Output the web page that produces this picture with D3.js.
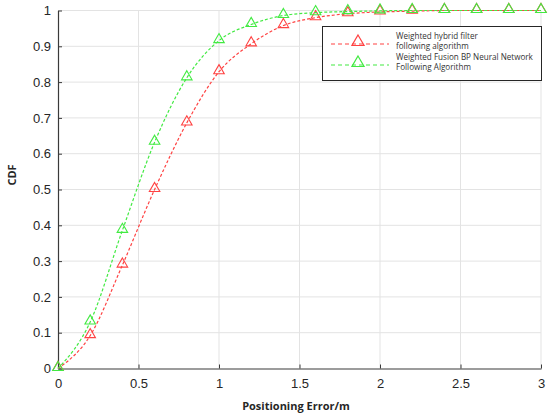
<!DOCTYPE html>
<html><head><meta charset="utf-8">
<script src="https://cdn.jsdelivr.net/npm/d3@7"></script>
<style>body{margin:0;background:#fff}svg{display:block}</style>
</head><body>
<script>
const xValues = [0,0.2,0.4,0.6,0.8,1.0,1.2,1.4,1.6,1.8,2.0,2.2,2.4,2.6,2.8,3.0];
const redValues = [0,0.092,0.289,0.50,0.686,0.829,0.907,0.958,0.980,0.991,0.996,0.998,1,1,1,1];
const greenValues = [0,0.13,0.386,0.632,0.812,0.916,0.961,0.986,0.994,0.997,0.999,1,1,1,1,1];
const seriesNames = ["Weighted hybrid filter|following algorithm","Weighted Fusion BP Neural Network|Following Algorithm"];
const xTicks = [0,0.5,1,1.5,2,2.5,3];
const yTicks = [0,0.1,0.2,0.3,0.4,0.5,0.6,0.7,0.8,0.9,1];
const xLabel = "Positioning Error/m";
const yLabel = "CDF";

const W=550,H=417;
const m={l:58,r:541,t:10.5,b:368.5};
const svg=d3.select("body").append("svg").attr("width",W).attr("height",H);
const x=d3.scaleLinear().domain([0,3]).range([m.l,m.r]);
const y=d3.scaleLinear().domain([0,1]).range([m.b,m.t]);
const RED="#ff4242", GREEN="#42ea42";

// grid
svg.append("g").selectAll("line").data(xTicks.slice(1)).join("line")
 .attr("x1",d=>x(d)).attr("x2",d=>x(d)).attr("y1",m.t).attr("y2",m.b)
 .attr("stroke","#e3e3e3").attr("stroke-width",1);
svg.append("g").selectAll("line").data(yTicks.slice(1)).join("line")
 .attr("x1",m.l).attr("x2",m.r).attr("y1",d=>y(d)).attr("y2",d=>y(d))
 .attr("stroke","#e3e3e3").attr("stroke-width",1);

// axes
const fmt=d=>String(+d.toFixed(1));
const xAxis=svg.append("g").attr("transform",`translate(0,${m.b})`)
 .call(d3.axisBottom(x).tickValues(xTicks).tickFormat(fmt).tickSizeInner(-4).tickSizeOuter(0).tickPadding(10));
const yAxis=svg.append("g").attr("transform",`translate(${m.l},0)`)
 .call(d3.axisLeft(y).tickValues(yTicks).tickFormat(fmt).tickSizeInner(-4).tickSizeOuter(0).tickPadding(7));
[xAxis,yAxis].forEach(g=>{
  g.select(".domain").attr("stroke","#3a3a3a").attr("stroke-width",1.2);
  g.selectAll(".tick line").attr("stroke","#3a3a3a");
  g.selectAll("text").attr("fill","#262626").style("font-family","Liberation Sans, Arial, sans-serif").style("font-size","13px");
});

svg.append("text").attr("x",296).attr("y",410).attr("text-anchor","middle")
 .style("font-family","Open Sans, sans-serif").style("font-weight","bold").style("font-size","11px").attr("fill","#262626").text(xLabel);
svg.append("text").attr("transform","translate(16,175) rotate(-90)").attr("text-anchor","middle")
 .style("font-family","Open Sans, sans-serif").style("font-weight","bold").style("font-size","11px").attr("fill","#262626").text(yLabel);

// series
const tri=d3.symbol().type(d3.symbolTriangle).size(48);
function drawSeries(vals,color){
  const pts=xValues.map((d,i)=>[d,vals[i]]);
  svg.append("path").datum(pts)
   .attr("d",d3.line().x(d=>x(d[0])).y(d=>y(d[1])).curve(d3.curveMonotoneX))
   .attr("fill","none").attr("stroke",color).attr("stroke-width",1.2).attr("stroke-dasharray","3,2");
  svg.append("g").selectAll("path").data(pts).join("path")
   .attr("d",tri).attr("transform",d=>`translate(${x(d[0])},${y(d[1])-1})`)
   .attr("fill","none").attr("stroke",color).attr("stroke-width",1.1);
}
drawSeries(redValues,RED);
drawSeries(greenValues,GREEN);

// legend
const lg=svg.append("g");
lg.append("rect").attr("x",322.5).attr("y",26.5).attr("width",219).attr("height",54)
 .attr("fill","#fff").attr("stroke","#262626").attr("stroke-width",1);
[[RED,44],[GREEN,65]].forEach(([c,yy],i)=>{
  lg.append("line").attr("x1",331).attr("x2",389).attr("y1",yy).attr("y2",yy)
   .attr("stroke",c).attr("stroke-width",1.2).attr("stroke-dasharray","4,3");
  lg.append("path").attr("d",d3.symbol().type(d3.symbolTriangle).size(64))
   .attr("transform",`translate(358,${yy-2})`).attr("fill","none").attr("stroke",c).attr("stroke-width",1.2);
  const lines=seriesNames[i].split("|");
  lines.forEach((t,j)=>{
    lg.append("text").attr("x",396).attr("y",yy-5+j*10).text(t)
     .style("font-family","Open Sans, sans-serif").style("font-size","8.1px").attr("fill","#333");
  });
});
</script>
</body></html>
